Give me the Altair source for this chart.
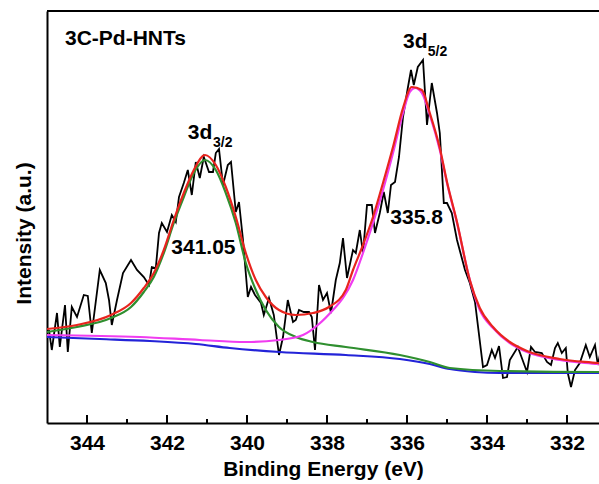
import altair as alt
import pandas as pd

# ---- raw XPS spectrum (binding energy eV, intensity a.u.) ----
raw_be = [344.95, 344.88, 344.75, 344.68, 344.55, 344.48, 344.38, 344.25, 344.08, 343.98,
          343.88, 343.68, 343.53, 343.45, 343.38, 343.25, 343.10, 342.90, 342.75, 342.58,
          342.45, 342.38, 342.28, 342.20, 342.13, 342.00, 341.88, 341.78, 341.70, 341.58,
          341.48, 341.38, 341.28, 341.18, 341.08, 340.95, 340.85, 340.78, 340.70, 340.60,
          340.48, 340.40, 340.28, 340.20, 340.10, 339.98, 339.90, 339.80, 339.65, 339.58,
          339.45, 339.33, 339.20, 339.10, 338.98, 338.85, 338.78, 338.70, 338.58, 338.45,
          338.38, 338.30, 338.20, 338.10, 338.00, 337.90, 337.78, 337.68, 337.60, 337.50,
          337.35, 337.28, 337.18, 337.10, 337.00, 336.88, 336.80, 336.68, 336.58, 336.48,
          336.40, 336.30, 336.20, 336.10, 335.98, 335.90, 335.83, 335.73, 335.60, 335.50,
          335.38, 335.25, 335.18, 335.08, 335.00, 334.88, 334.75, 334.55, 334.43, 334.30,
          334.10, 334.00, 333.88, 333.80, 333.70, 333.60, 333.50, 333.43, 333.23, 333.00,
          332.90, 332.80, 332.63, 332.50, 332.40, 332.30, 332.23, 332.13, 332.03, 331.98,
          331.90, 331.80, 331.68, 331.53, 331.43, 331.30, 331.23, 331.15]
raw_int = [93, 73, 110, 76, 118, 71, 116, 106, 128, 127,
           90, 153, 140, 123, 98, 123, 150, 163, 153, 146,
           138, 156, 155, 190, 200, 191, 208, 201, 226, 240,
           253, 228, 261, 245, 266, 251, 251, 270, 274, 238,
           258, 261, 211, 221, 183, 126, 136, 128, 120, 108,
           125, 108, 68, 86, 123, 101, 103, 113, 111, 111,
           106, 73, 138, 123, 130, 110, 143, 160, 185, 145,
           173, 170, 193, 170, 218, 218, 190, 210, 231, 210,
           238, 241, 266, 306, 335, 353, 338, 356, 363, 298,
           340, 310, 290, 220, 220, 210, 183, 153, 140, 121,
           56, 58, 73, 65, 77, 45, 46, 63, 76, 51,
           76, 71, 70, 61, 58, 75, 80, 70, 75, 50,
           36, 53, 60, 78, 66, 78, 58, 73]

# ---- Shirley background (blue) ----
bg_be = [345.0, 343.68, 342.43, 341.28, 340.43, 339.18, 337.53, 336.18, 335.43, 334.93,
         334.30, 333.68, 331.2, 331.0]
bg_int = [86, 84, 82, 79, 75, 71, 68, 64, 59, 54, 51, 50, 50, 50]

# ---- Pd 3d3/2 component (green) ----
p1_be = [345.0, 344.25, 343.40, 342.90, 342.58, 342.33, 342.08, 341.83, 341.58, 341.33,
         341.05, 340.78, 340.53, 340.28, 340.03, 339.78, 339.53, 339.20, 338.78, 338.35,
         337.53, 336.18, 335.43, 334.93, 333.68, 331.2, 331.0]
p1_int = [91, 96, 105, 116, 131, 146, 170, 200, 226, 250,
          263, 253, 230, 200, 160, 133, 113, 96, 86, 81,
          76, 68, 61, 55, 52, 51, 51]

# ---- Pd 3d5/2 component (magenta) ----
p2_be = [345.0, 342.68, 341.18, 340.03, 339.20, 338.60, 338.20, 337.85, 337.60, 337.35,
         337.10, 336.85, 336.60, 336.35, 336.10, 335.93, 335.80, 335.63, 335.43, 335.18,
         335.00, 334.75, 334.43, 334.18, 333.85, 333.43, 333.00, 332.18, 331.23, 331.0]
p2_int = [88, 86, 83, 81, 83, 88, 99, 113, 125, 143,
          170, 200, 233, 270, 310, 331, 335, 330, 308, 273,
          240, 200, 143, 113, 95, 80, 71, 63, 59, 58]

# ---- fitted envelope (red) ----
env_be = [345.0, 344.25, 343.40, 342.90, 342.58, 342.33, 342.08, 341.83, 341.58, 341.33,
          341.05, 340.78, 340.53, 340.28, 340.03, 339.78, 339.53, 339.20, 338.78, 338.35,
          337.95, 337.53, 337.35, 337.10, 336.85, 336.60, 336.35, 336.10, 335.88, 335.63,
          335.43, 335.18, 335.00, 334.75, 334.43, 334.18, 333.85, 333.43, 333.00, 332.18,
          331.23, 331.0]
env_int = [94, 98, 108, 120, 135, 150, 173, 203, 230, 253,
           268, 258, 236, 206, 170, 143, 126, 113, 108, 110,
           116, 133, 153, 178, 206, 240, 276, 315, 336, 333,
           310, 275, 241, 201, 143, 115, 96, 81, 72, 64,
           60, 59]

major_ticks = [344, 342, 340, 338, 336, 334, 332]
minor_ticks = [345, 343, 341, 339, 337, 335, 333, 331]

ann_text = ["3C-Pd-HNTs", "3d", "3d", "341.05", "335.8"]
ann_be = [344.55, 341.48, 336.10, 341.09, 335.76]
ann_int = [384, 290, 381, 175, 205]
ann_align = ["left", "left", "left", "center", "center"]

sub_text = ["3/2", "5/2"]
sub_be = [340.85, 335.48]
sub_int = [280, 371]

FONT = "Liberation Sans"
W, H = 552, 412

xscale = alt.Scale(domain=[345, 331.2], nice=False, zero=False)
yscale = alt.Scale(domain=[0, 412], nice=False, zero=False)

xaxis = alt.Axis(values=major_ticks, format="d", ticks=False, grid=False,
                 labelFontSize=21, labelFontWeight="bold", labelFont=FONT,
                 labelColor="black", labelPadding=9,
                 titleFontSize=21, titleFontWeight="bold", titleFont=FONT,
                 titleColor="black", titlePadding=5,
                 domainColor="black", domainWidth=2)
yaxis = alt.Axis(labels=False, ticks=False, grid=False,
                 titleFontSize=21, titleFontWeight="bold", titleFont=FONT,
                 titleColor="black", titlePadding=13, titleY=222,
                 domainColor="black", domainWidth=2)

X = alt.X("be:Q", scale=xscale, axis=xaxis, title="Binding Energy (eV)")
Y = alt.Y("i:Q", scale=yscale, axis=yaxis, title="Intensity (a.u.)")


def curve(be, inten, color, width, interp):
    df = pd.DataFrame({"be": be, "i": inten})
    return alt.Chart(df).mark_line(color=color, strokeWidth=width,
                                   interpolate=interp, clip=True).encode(x=X, y=Y)


raw = curve(raw_be, raw_int, "black", 1.8, "linear")
bg = curve(bg_be, bg_int, "#2323d8", 2.2, "monotone")
p1 = curve(p1_be, p1_int, "#2f8f2f", 2.2, "monotone")
p2 = curve(p2_be, p2_int, "#f03cf0", 2.2, "monotone")
env = curve(env_be, env_int, "#e8241e", 2.2, "monotone")

major = alt.Chart(pd.DataFrame({"be": major_ticks})).mark_rule(
    color="black", strokeWidth=2).encode(
    x=alt.X("be:Q", scale=xscale), y=alt.value(H), y2=alt.value(H - 8))
minor = alt.Chart(pd.DataFrame({"be": minor_ticks})).mark_rule(
    color="black", strokeWidth=2, clip=True).encode(
    x=alt.X("be:Q", scale=xscale), y=alt.value(H), y2=alt.value(H - 4))

top = alt.Chart(pd.DataFrame({"be": [345]})).mark_rule(
    color="black", strokeWidth=2).encode(
    x=alt.value(0), x2=alt.value(W), y=alt.value(0))

ann_df = pd.DataFrame({"t": ann_text, "be": ann_be, "i": ann_int, "a": ann_align})
ann = alt.Chart(ann_df).transform_filter("datum.a == 'left'").mark_text(
    font=FONT, fontSize=21, fontWeight="bold", color="black",
    align="left", baseline="middle").encode(
    x=alt.X("be:Q", scale=xscale), y=alt.Y("i:Q", scale=yscale), text="t:N")
ann_c = alt.Chart(ann_df).transform_filter("datum.a == 'center'").mark_text(
    font=FONT, fontSize=21, fontWeight="bold", color="black",
    align="center", baseline="middle").encode(
    x=alt.X("be:Q", scale=xscale), y=alt.Y("i:Q", scale=yscale), text="t:N")
sub = alt.Chart(pd.DataFrame({"t": sub_text, "be": sub_be, "i": sub_int})).mark_text(
    font=FONT, fontSize=14, fontWeight="bold", color="black",
    align="left", baseline="middle").encode(
    x=alt.X("be:Q", scale=xscale), y=alt.Y("i:Q", scale=yscale), text="t:N")

chart = alt.layer(raw, bg, p1, p2, env, major, minor, top, ann, ann_c, sub).properties(
    width=W, height=H,
    autosize=alt.AutoSizeParams(type="none"),
    padding={"left": 47, "top": 11, "right": 0, "bottom": 61},
    background="white",
).configure_view(stroke=None)

chart.save("out.html", embed_options={"renderer": "svg", "actions": False})
